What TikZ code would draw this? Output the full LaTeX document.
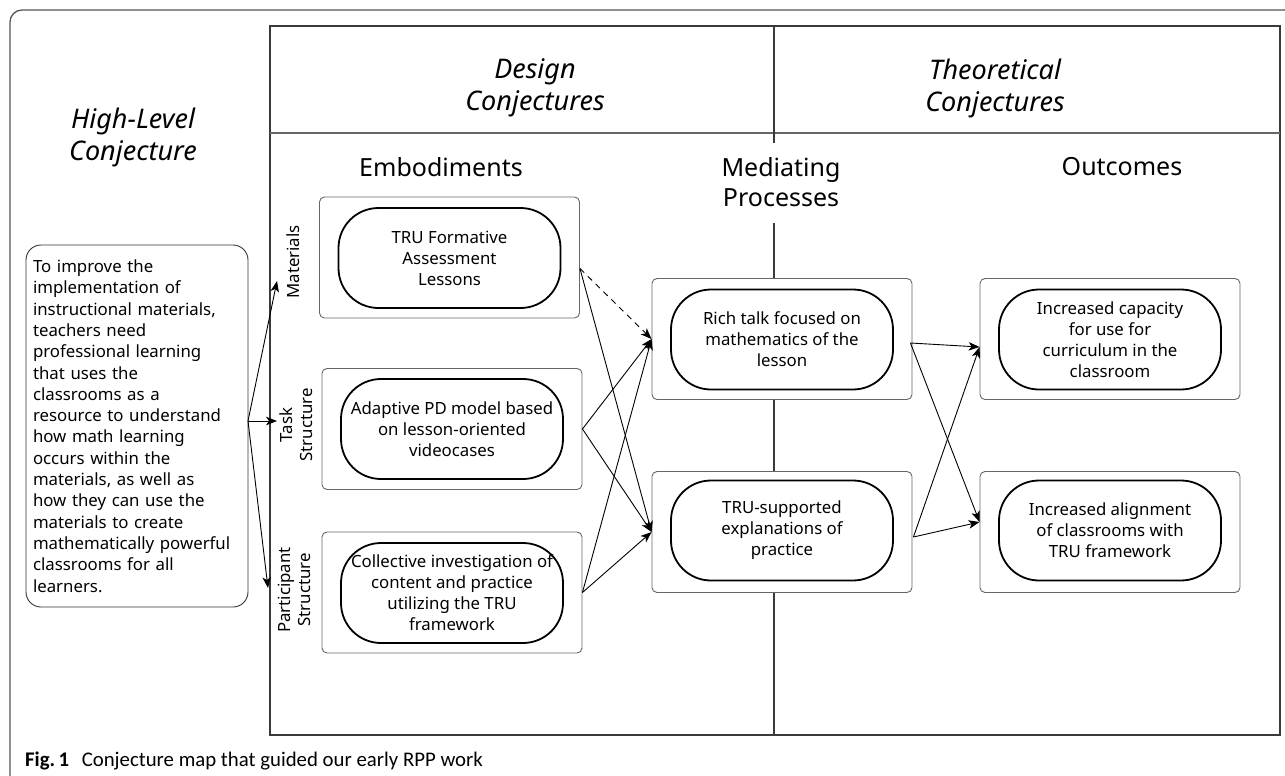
\documentclass[tikz,border=0pt]{standalone}
\usepackage{fontspec}
\setmainfont{Noto Sans}
\newfontfamily\capfont{Carlito}
\usetikzlibrary{arrows.meta}

\definecolor{framegray}{HTML}{555555}
\definecolor{boxgray}{HTML}{666666}
\definecolor{linegray}{HTML}{3A3A3A}

\tikzset{
  bodyfont/.style={font=\fontsize{16.8}{21}\selectfont},
  headfont/.style={font=\fontsize{25}{30}\selectfont},
  headit/.style={font=\fontsize{27}{32}\selectfont\itshape},
  holder/.style={draw=boxgray, line width=0.9pt, rounded corners=5pt,
    minimum width=260pt, minimum height=121pt, inner sep=0pt},
  pill/.style={draw=black, line width=1.8pt, rounded corners=40pt,
    minimum width=222pt, minimum height=100pt, inner sep=0pt,
    align=center, bodyfont},
  sidelabel/.style={rotate=90, align=center, inner sep=0pt,
    font=\fontsize{16.8}{20}\selectfont},
  arr/.style={-{Stealth[length=11pt,width=8.5pt,inset=3pt]}, line width=0.9pt},
}

\begin{document}
\begin{tikzpicture}[x=1pt,y=-1pt]
\useasboundingbox (0,0) rectangle (1285,776);
\clip (0,0) rectangle (1285,776);

% outer figure frame (runs past the page on the right and bottom)
\draw[framegray, line width=1.3pt, rounded corners=12pt] (10,795) -- (10,10) -- (1300,10);

% main table frame and header rule
\draw[linegray, line width=2pt] (270,26) rectangle (1280,735);
\draw[boxgray, line width=1.2pt] (270,133) -- (1280,133);

% column headers
\node[headit, align=center] (design) at (535,88) {Design\\Conjectures};
\node[headit, align=center] (theory) at (995,88) {Theoretical\\Conjectures};
\node[headit, align=center] (high) at (133,137) {High-Level\\Conjecture};

\node[headfont] (emb) at (441,167) {Embodiments};
\node[headfont, align=center] (mp) at (781,182) {Mediating\\Processes};
\node[headfont] (outc) at (1122,167) {Outcomes};

% high-level conjecture text
\node[draw=black!80, line width=0.9pt, rounded corners=15pt, minimum width=222pt,
  minimum height=362pt, text width=208pt, inner sep=7pt, align=left,
  font=\fontsize{16.8}{21.3}\selectfont]
  (hl) at (137,426) {To improve the\\implementation of\\instructional materials,\\teachers need\\professional learning\\that uses the\\classrooms as a\\resource to understand\\how math learning\\occurs within the\\materials, as well as\\how they can use the\\materials to create\\mathematically powerful\\classrooms for all\\learners.};

% side labels of the embodiments
\node[sidelabel] (lmat) at (293,262) {Materials};
\node[sidelabel] (ltask) at (296,425) {Task\\Structure};
\node[sidelabel] (lpart) at (294,590) {Participant\\Structure};

% embodiments
\node[holder] (matbox) at (449.5,257.5) {};
\node[pill] (mat) at (449.5,258) {TRU Formative\\Assessment\\Lessons};
\node[holder] (taskbox) at (452,429) {};
\node[pill] (task) at (452,429) {Adaptive PD model based\\on lesson-oriented\\videocases};
\node[holder] (partbox) at (452,592.5) {};
\node[pill] (part) at (452,593) {Collective investigation of\\content and practice\\utilizing the TRU\\framework};

% mediating processes
\node[holder] (medabox) at (782,339) {};
\node[pill] (meda) at (782,339.5) {Rich talk focused on\\mathematics of the\\lesson};
\node[holder] (medbbox) at (782,532) {};
\node[pill] (medb) at (782,530.5) {TRU-supported\\explanations of\\practice};

% outcomes
\node[holder] (outabox) at (1110,339) {};
\node[pill] (outa) at (1110,339.5) {Increased capacity\\for use for\\curriculum in the\\classroom};
\node[holder] (outbbox) at (1110,532) {};
\node[pill] (outb) at (1110,530.5) {Increased alignment\\of classrooms with\\TRU framework};

% column divider between design and theoretical conjectures
\coordinate (vtop) at (774,26);
\coordinate (vbot) at (774,735);
\draw[linegray, line width=1.5pt] (vtop) -- ++(0,117);
\draw[linegray, line width=1.5pt] (774,223) -- (vtop |- medabox.north);
\draw[linegray, line width=1.5pt] (vtop |- medabox.south) -- (vtop |- medbbox.north);
\draw[linegray, line width=1.5pt] (vtop |- medbbox.south) -- (vbot);

% arrows from the high-level conjecture
\coordinate (hlout) at (248,421);
\coordinate (tmat) at (277,281);
\coordinate (ttask) at (277,421);
\coordinate (tpart) at (268,588);
\draw[arr] (hlout) -- (tmat);
\draw[arr] (hlout) -- (ttask);
\draw[arr] (hlout) -- (tpart);

% embodiments to mediating processes
\coordinate (matout) at ([yshift=-11pt]matbox.east);
\draw[arr, dashed, dash pattern=on 6pt off 5pt] (matout) -- (medabox.west);
\draw[arr] (matout) -- (medbbox.west);
\draw[arr] (taskbox.east) -- (medabox.west);
\draw[arr] (taskbox.east) -- (medbbox.west);
\draw[arr] (partbox.east) -- (medabox.west);
\draw[arr] (partbox.east) -- (medbbox.west);

% mediating processes to outcomes
\coordinate (maout) at ([xshift=-2pt,yshift=-4pt]medabox.east);
\coordinate (mbout) at ([xshift=1pt,yshift=-5pt]medbbox.east);
\coordinate (oain) at ([yshift=-8pt]outabox.west);
\coordinate (obin) at ([yshift=10pt]outbbox.west);
\draw[arr] (maout) -- (oain);
\draw[arr] (maout) -- (obin);
\draw[arr] (mbout) -- (oain);
\draw[arr] (mbout) -- (obin);

% caption
\node[anchor=base west, inner sep=0pt, font=\capfont\fontsize{20.8}{24}\selectfont]
  (cap) at (25,766) {\textbf{Fig.\,1}\hspace{0.6em}Conjecture map that guided our early RPP work};
\end{tikzpicture}
\end{document}
